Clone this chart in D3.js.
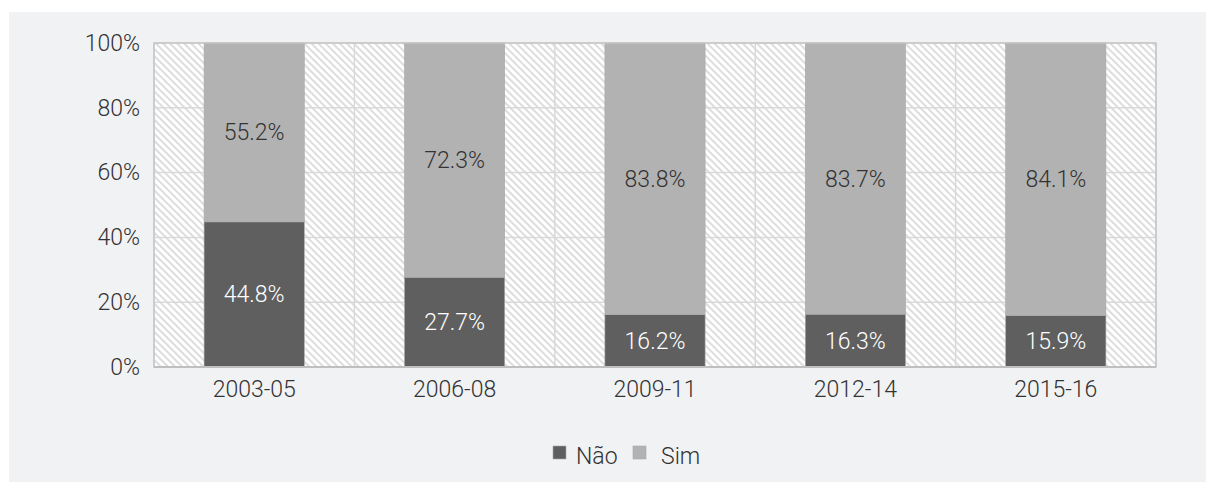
<!DOCTYPE html>
<html>
<head>
<meta charset="utf-8">
<script src="https://cdn.jsdelivr.net/npm/d3@7"></script>
<style>
  body { margin: 0; background: #fff; }
  text { font-family: Roboto, "Liberation Sans", sans-serif; font-weight: 300; }
</style>
</head>
<body>
<svg id="chart" width="1206" height="482"></svg>
<script>
var periods = ["2003-05", "2006-08", "2009-11", "2012-14", "2015-16"];
var nao = [44.8, 27.7, 16.2, 16.3, 15.9];
var sim = [55.2, 72.3, 83.8, 83.7, 84.1];
var yTicks = [0, 20, 40, 60, 80, 100];
var seriesNames = ["Não", "Sim"];

var svg = d3.select("#chart"),
    width = +svg.attr("width"),
    height = +svg.attr("height");

var margin = {left: 154, right: 50, top: 43, bottom: 115},
    plotW = width - margin.left - margin.right,
    plotH = height - margin.top - margin.bottom;

var color = d3.scaleOrdinal(seriesNames, ["#5f5f5f", "#b2b2b2"]);
var labelColor = d3.scaleOrdinal(seriesNames, ["#ffffff", "#333333"]);

// background panel
svg.append("rect")
    .attr("x", 9).attr("y", 12)
    .attr("width", width - 9).attr("height", height - 12)
    .attr("fill", "#f1f2f4");

// hatch pattern
var defs = svg.append("defs");
var pat = defs.append("pattern")
    .attr("id", "hatch")
    .attr("patternUnits", "userSpaceOnUse")
    .attr("width", 5).attr("height", 5)
    .attr("patternTransform", "rotate(-45)");
pat.append("rect").attr("width", 5).attr("height", 5).attr("fill", "#ffffff");
pat.append("line")
    .attr("x1", 1).attr("y1", 0).attr("x2", 1).attr("y2", 5)
    .attr("stroke", "#dadada").attr("stroke-width", 1.8);

var g = svg.append("g").attr("transform", "translate(" + margin.left + "," + margin.top + ")");

var x = d3.scaleBand()
    .domain(periods)
    .range([0, plotW])
    .paddingInner(0.5)
    .paddingOuter(0.25);

var y = d3.scaleLinear()
    .domain([0, 100])
    .range([plotH, 0]);

g.append("rect")
    .attr("width", plotW).attr("height", plotH)
    .attr("fill", "url(#hatch)");

// gridlines
g.selectAll(".hgrid")
    .data(yTicks)
    .enter().append("line")
    .attr("class", "hgrid")
    .attr("x1", 0).attr("x2", plotW)
    .attr("y1", function (d) { return y(d); })
    .attr("y2", function (d) { return y(d); })
    .attr("stroke", "#d9d9d9").attr("stroke-width", 1.5);

var step = x.step();
g.selectAll(".vgrid")
    .data(d3.range(periods.length + 1))
    .enter().append("line")
    .attr("class", "vgrid")
    .attr("x1", function (i) { return i * step; })
    .attr("x2", function (i) { return i * step; })
    .attr("y1", 0).attr("y2", plotH)
    .attr("stroke", "#d9d9d9").attr("stroke-width", 1.5);

// stacked data
var rows = periods.map(function (p, i) {
    return {period: p, "Não": nao[i], "Sim": sim[i]};
});
var stack = d3.stack().keys(seriesNames);
var layers = stack(rows);

var layer = g.selectAll(".layer")
    .data(layers)
    .enter().append("g")
    .attr("class", "layer");

layer.selectAll("rect")
    .data(function (d) { return d.map(function (v) { v.key = d.key; return v; }); })
    .enter().append("rect")
    .attr("x", function (d) { return x(d.data.period); })
    .attr("width", x.bandwidth())
    .attr("y", function (d) { return y(Math.min(d[1], 100)); })
    .attr("height", function (d) { return y(d[0]) - y(Math.min(d[1], 100)); })
    .attr("fill", function (d) { return color(d.key); })
    .attr("stroke", "#a8a8a8")
    .attr("stroke-width", 0.6);

layer.selectAll("text")
    .data(function (d) { return d; })
    .enter().append("text")
    .attr("x", function (d) { return x(d.data.period) + x.bandwidth() / 2; })
    .attr("y", function (d) { return (y(d[0]) + y(Math.min(d[1], 100))) / 2; })
    .attr("dy", "0.35em")
    .attr("text-anchor", "middle")
    .attr("font-size", 23)
    .attr("fill", function (d) { return labelColor(d.key); })
    .text(function (d) { return d.data[d.key].toFixed(1) + "%"; });

// plot border
g.append("rect")
    .attr("width", plotW).attr("height", plotH)
    .attr("fill", "none")
    .attr("stroke", "#c6c6c6").attr("stroke-width", 1.5);

g.append("line")
    .attr("x1", 0).attr("x2", plotW)
    .attr("y1", plotH).attr("y2", plotH)
    .attr("stroke", "#bfbfbf").attr("stroke-width", 2);

// axes
var yAxis = g.append("g")
    .call(d3.axisLeft(y).tickValues(yTicks).tickSize(0).tickPadding(14)
        .tickFormat(function (d) { return d + "%"; }));
yAxis.select(".domain").remove();
yAxis.selectAll("text").attr("font-size", 23).attr("fill", "#333").attr("font-family", null);

var xAxis = g.append("g")
    .attr("transform", "translate(0," + plotH + ")")
    .call(d3.axisBottom(x).tickSize(0).tickPadding(14));
xAxis.select(".domain").remove();
xAxis.selectAll("text").attr("font-size", 23).attr("fill", "#333").attr("font-family", null);

// legend
var legend = svg.append("g").attr("transform", "translate(553,446)");
var legendX = [0, 80];
var item = legend.selectAll(".item")
    .data(seriesNames)
    .enter().append("g")
    .attr("class", "item")
    .attr("transform", function (d, i) { return "translate(" + legendX[i] + ",0)"; });
item.append("rect")
    .attr("width", 13).attr("height", 13)
    .attr("fill", function (d) { return color(d); })
    .attr("stroke", "#a8a8a8").attr("stroke-width", 0.6);
item.append("text")
    .attr("x", function (d, i) { return i === 0 ? 23 : 28; })
    .attr("y", 18)
    .attr("font-size", 23)
    .attr("fill", "#333")
    .text(function (d) { return d; });
</script>
</body>
</html>
